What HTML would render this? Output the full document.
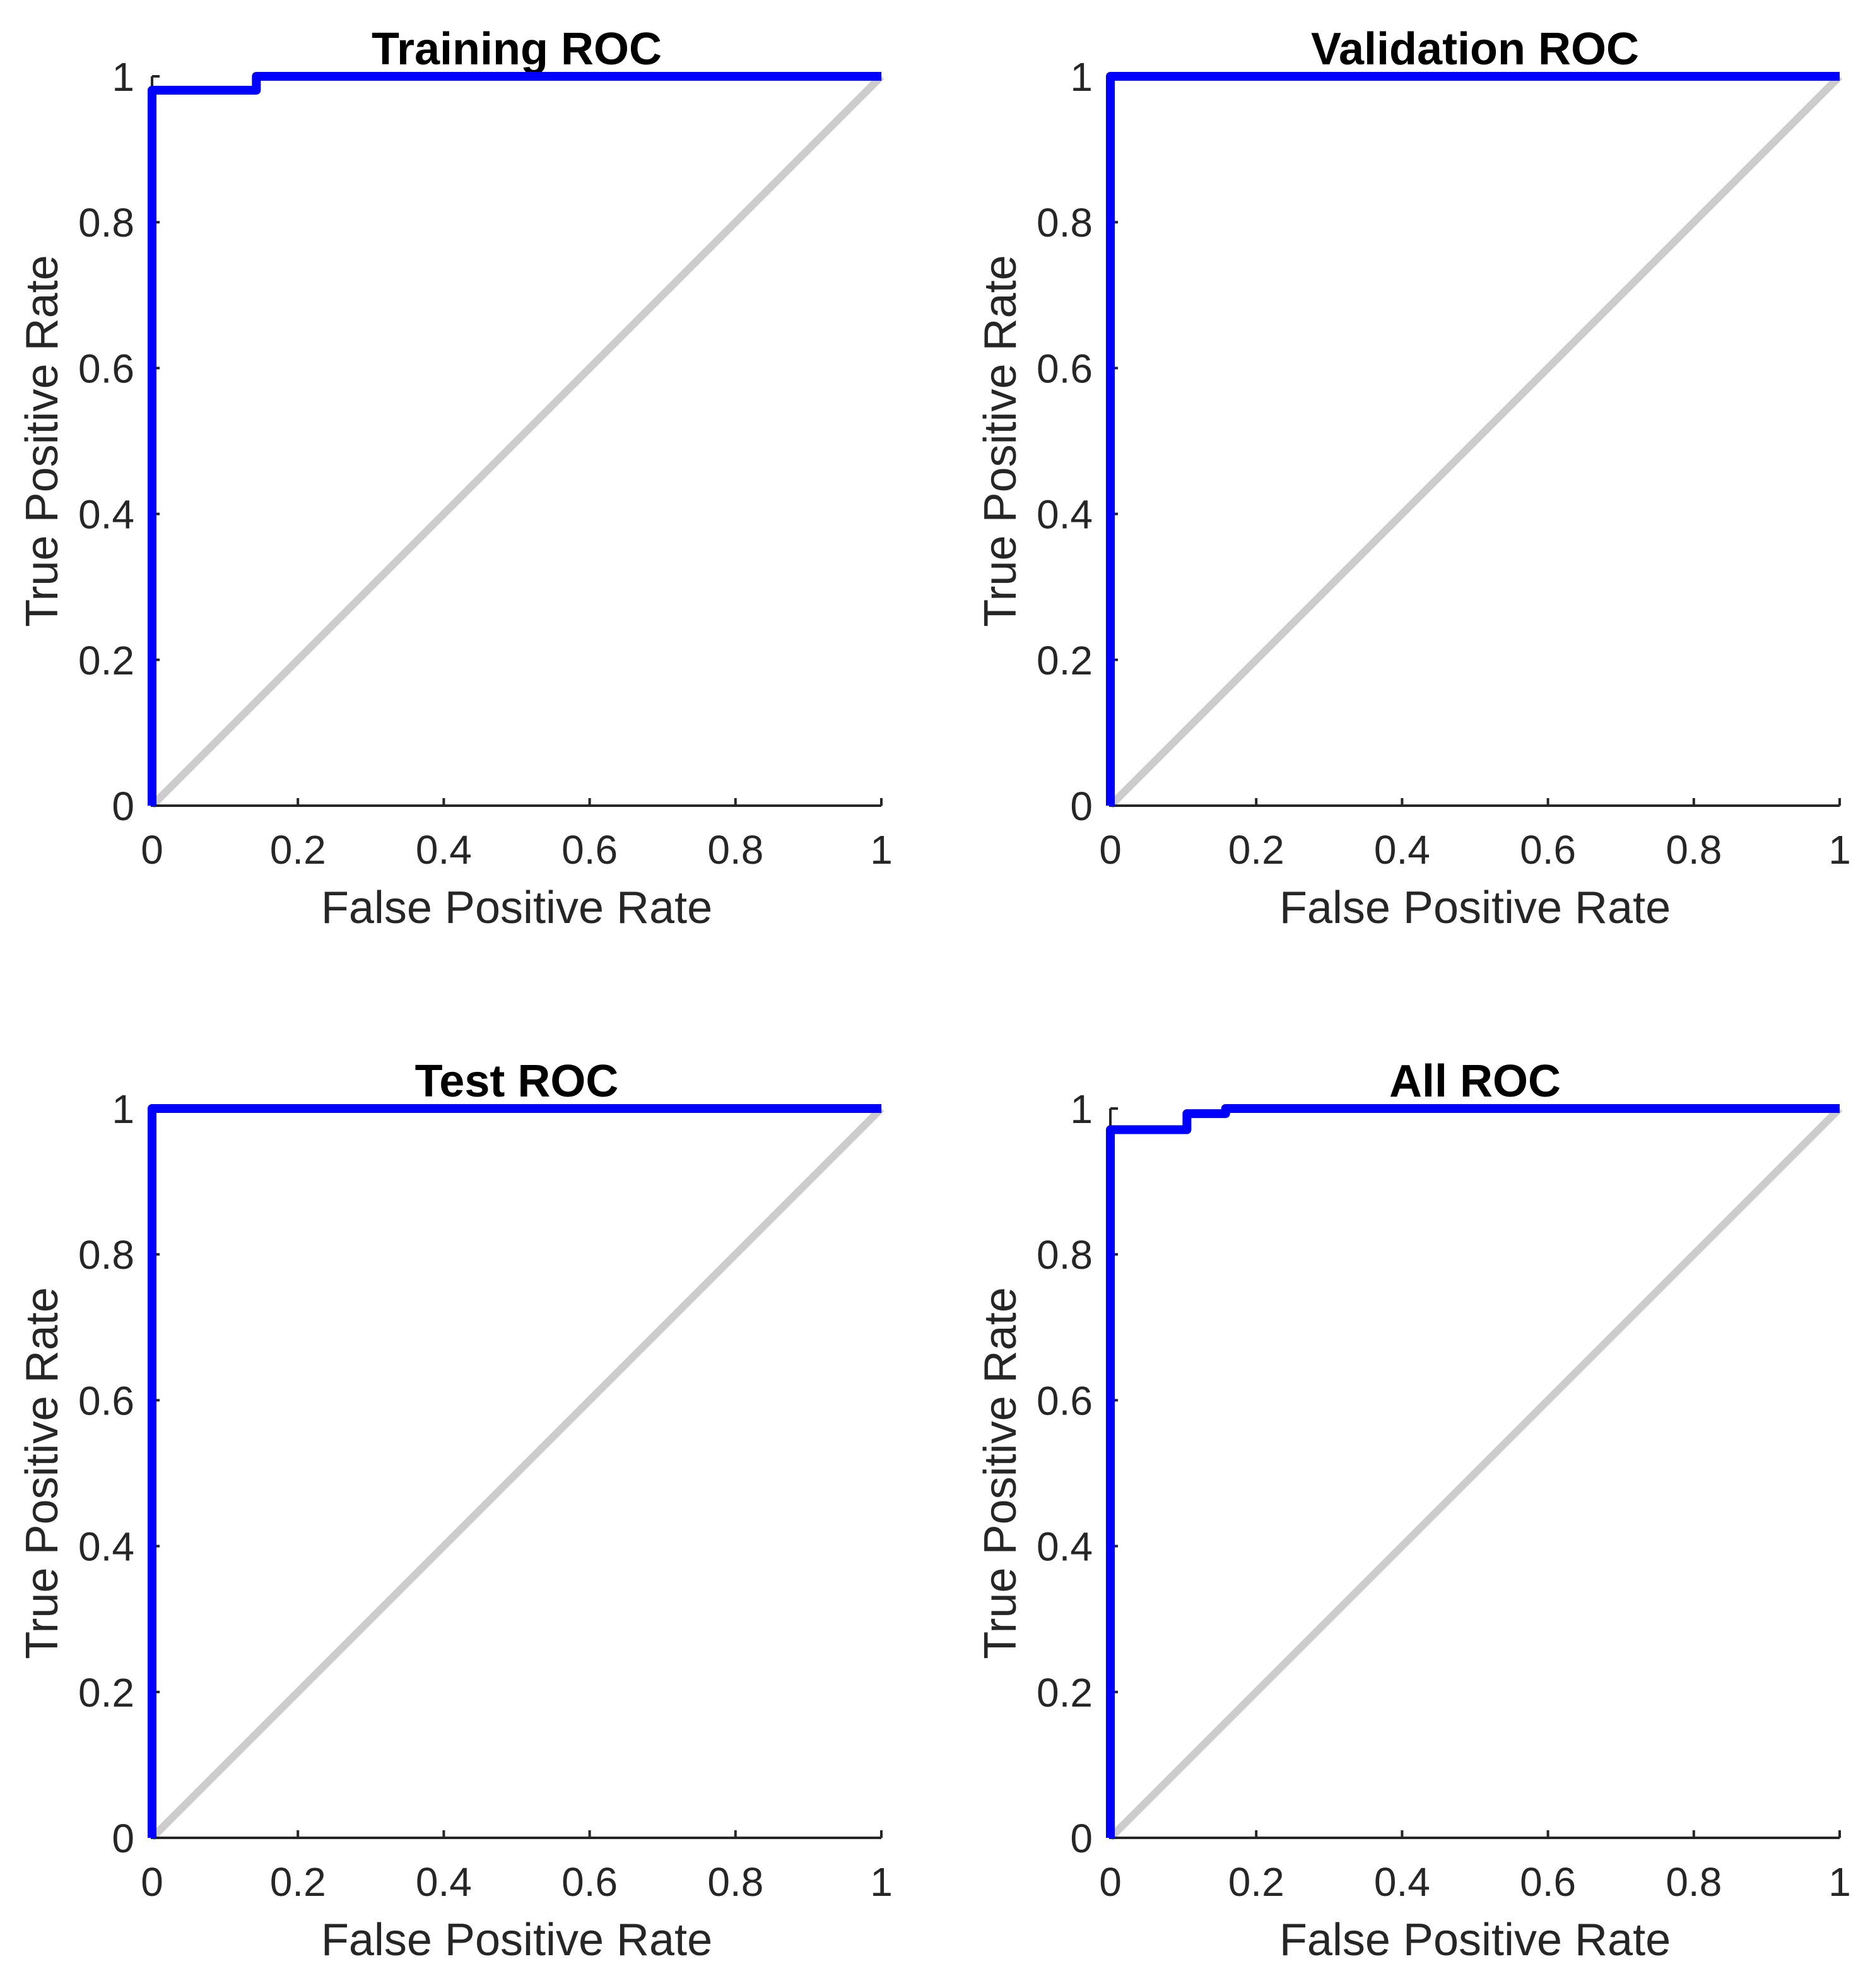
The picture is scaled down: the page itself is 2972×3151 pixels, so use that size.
<!DOCTYPE html>
<html><head><meta charset="utf-8"><style>
html,body{margin:0;padding:0;background:#fff;}
svg{display:block;}
text{font-family:"Liberation Sans",Arial,sans-serif;fill:#262626;}
</style></head><body>
<svg id="fig" width="2972" height="3151" viewBox="0 0 2972 3151" xmlns="http://www.w3.org/2000/svg"></svg>
<script>
const panelTitles = ["Training ROC","Validation ROC","Test ROC","All ROC"];
const panelNames = ["training-roc","validation-roc","test-roc","all-roc"];
const trainFPR = [0,0,0.143,0.143,1];
const trainTPR = [0,0.981,0.981,1,1];
const valFPR = [0,0,1];
const valTPR = [0,1,1];
const testFPR = [0,0,1];
const testTPR = [0,1,1];
const allFPR = [0,0,0.105,0.105,0.158,0.158,1];
const allTPR = [0,0.971,0.971,0.993,0.993,1,1];
const tickVals = [0,0.2,0.4,0.6,0.8,1];
const tickLabels = ["0","0.2","0.4","0.6","0.8","1"];
const series = [[trainFPR,trainTPR],[valFPR,valTPR],[testFPR,testTPR],[allFPR,allTPR]];

const NS="http://www.w3.org/2000/svg";
const svg=document.getElementById('fig');
const origins=[[241,121],[1760,121],[241,1757],[1760,1757]];
const S=1156;
function mk(tag,attrs,parent){const e=document.createElementNS(NS,tag);for(const k in attrs)e.setAttribute(k,attrs[k]);parent.appendChild(e);return e;}

for(let p=0;p<4;p++){
  const [ox,oy]=origins[p];
  const sx=v=>ox+v*S, sy=v=>oy+S-v*S;
  const g=mk('g',{},svg);
  
  
  const d=mk('line',{x1:sx(0),y1:sy(0),x2:sx(1),y2:sy(1),stroke:'#cccccc','stroke-width':12},g);
  
  
  const ax=mk('path',{d:`M${sx(0)},${sy(1)} L${sx(0)},${sy(0)} L${sx(1)},${sy(0)}`,fill:'none',stroke:'#262626','stroke-width':4},g);
  
  
  for(let i=0;i<tickVals.length;i++){
    const v=tickVals[i];
    const tx=mk('line',{x1:sx(v),y1:sy(0),x2:sx(v),y2:sy(0)-12,stroke:'#262626','stroke-width':4},g);
    
    
    const ty=mk('line',{x1:sx(0),y1:sy(v),x2:sx(0)+12,y2:sy(v),stroke:'#262626','stroke-width':4},g);
    
    
    const xl=mk('text',{x:sx(v),y:oy+S+92,'text-anchor':'middle','font-size':64},g);
    xl.textContent=tickLabels[i];
    
    
    const yl=mk('text',{x:ox-28,y:sy(v)+23,'text-anchor':'end','font-size':64},g);
    yl.textContent=tickLabels[i];
    
    
  }
  const xt=mk('text',{x:ox+S/2,y:oy+S+186,'text-anchor':'middle','font-size':72},g);
  xt.textContent='False Positive Rate';
  
  
  const yx=ox-150, yy=oy+S/2;
  const yt=mk('text',{x:yx,y:yy,'text-anchor':'middle','font-size':72,transform:`rotate(-90 ${yx} ${yy})`},g);
  yt.textContent='True Positive Rate';
  
  
  const tt=mk('text',{x:ox+S/2,y:oy-19,'text-anchor':'middle','font-size':72,'font-weight':'bold'},g);
  tt.style.fill='#000';
  tt.textContent=panelTitles[p];
  
  
  const [xs,ys]=series[p];
  const pts=xs.map((x,i)=>sx(x)+','+sy(ys[i])).join(' ');
  const c=mk('polyline',{points:pts,fill:'none',stroke:'#0000ff','stroke-width':14,'stroke-linejoin':'round'},g);
  
  
}
</script>
</body></html>
